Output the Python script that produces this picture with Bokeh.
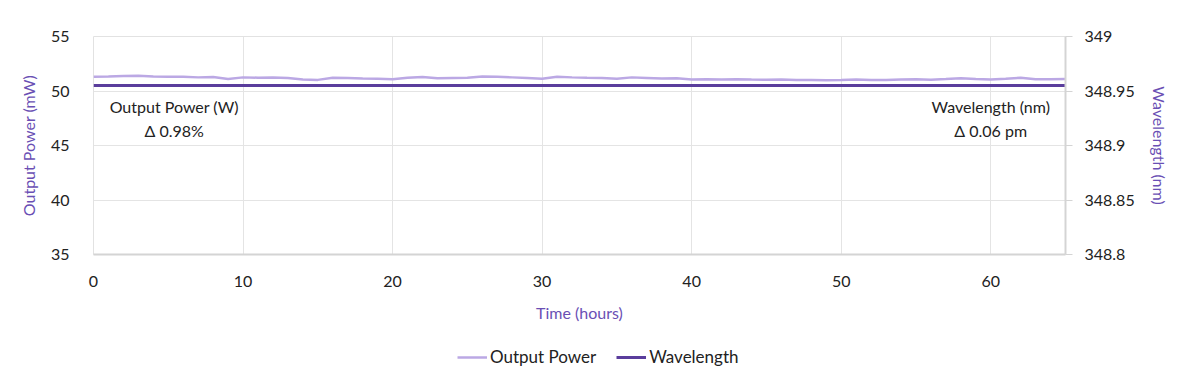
from bokeh.plotting import figure
from bokeh.layouts import column
from bokeh.models import (Range1d, LinearAxis, FixedTicker, Label, Legend, LegendItem,
                          CustomJSTickFormatter)
from bokeh.embed import file_html
from bokeh.resources import INLINE

# ---- data ----
hours = list(range(0, 66))
output_power = [51.30, 51.32, 51.38, 51.40, 51.33, 51.30, 51.31, 51.25, 51.28, 51.10,
                51.25, 51.22, 51.24, 51.20, 51.06, 51.02, 51.22, 51.20, 51.15, 51.12,
                51.08, 51.22, 51.28, 51.18, 51.20, 51.22, 51.32, 51.30, 51.25, 51.20,
                51.12, 51.30, 51.25, 51.22, 51.20, 51.12, 51.25, 51.20, 51.15, 51.18,
                51.06, 51.08, 51.05, 51.08, 51.05, 51.04, 51.06, 51.00, 51.02, 50.98,
                51.00, 51.05, 51.02, 51.00, 51.05, 51.08, 51.04, 51.10, 51.18, 51.10,
                51.05, 51.12, 51.22, 51.08, 51.08, 51.10]
wl_hours = [0, 5, 10, 15, 20, 25, 30, 35, 40, 45, 50, 55, 60, 65]
wavelength = [348.95500, 348.95502, 348.95499, 348.95501, 348.95503, 348.95500, 348.95498,
              348.95501, 348.95502, 348.95500, 348.95499, 348.95501, 348.95500, 348.95502]
x_ticks = [0, 10, 20, 30, 40, 50, 60]
left_ticks = [35, 40, 45, 50, 55]
right_ticks = [348.8, 348.85, 348.9, 348.95, 349.0]
series_names = ["Output Power", "Wavelength"]

FONT = "Lato"
LIGHT = "#bba8e4"
DARK = "#5a3d9c"
AXCOL = "#6a4fb4"

p = figure(width=1190, height=326, output_backend="svg", toolbar_location=None,
           x_range=Range1d(0, 65), y_range=Range1d(35, 55),
           min_border_left=93, min_border_right=125, min_border_top=36, min_border_bottom=72)
p.outline_line_color = "#e2e2e2"
p.background_fill_color = "white"
p.border_fill_color = "white"

p.extra_y_ranges = {"wl": Range1d(348.8, 349.0)}

# grid
p.xgrid.grid_line_color = "#e4e4e4"
p.ygrid.grid_line_color = "#e4e4e4"
p.xgrid.ticker = FixedTicker(ticks=x_ticks)
p.ygrid.ticker = FixedTicker(ticks=left_ticks)

# x axis
xa = p.xaxis[0]
xa.ticker = FixedTicker(ticks=x_ticks)
xa.axis_label = "Time (hours)"
xa.axis_line_color = "#d4d4d4"
xa.axis_line_width = 2
xa.major_tick_line_color = None
xa.minor_tick_line_color = None
xa.major_label_standoff = 15
xa.axis_label_standoff = 13

# left axis
ya = p.yaxis[0]
ya.ticker = FixedTicker(ticks=left_ticks)
ya.axis_label = "Output Power (mW)"
ya.axis_line_color = None
ya.major_tick_line_color = None
ya.minor_tick_line_color = None
ya.major_label_standoff = 18
ya.axis_label_standoff = 10

# right axis
ra = LinearAxis(y_range_name="wl", ticker=FixedTicker(ticks=right_ticks),
                formatter=CustomJSTickFormatter(code="return parseFloat(tick.toFixed(2)).toString();"))
ra.axis_label = "Wavelength (nm)"
ra.axis_line_color = "#d4d4d4"
ra.axis_line_width = 2
ra.major_tick_line_color = "#d4d4d4"
ra.major_tick_in = 0
ra.major_tick_out = 7
ra.minor_tick_line_color = None
ra.major_label_standoff = 12
ra.axis_label_standoff = 12
p.add_layout(ra, "right")

for ax in [xa, ya, ra]:
    ax.major_label_text_font = FONT
    ax.major_label_text_font_size = "16px"
    ax.major_label_text_color = "#222222"
    ax.axis_label_text_font = FONT
    ax.axis_label_text_font_size = "16px"
    ax.axis_label_text_font_style = "normal"
    ax.axis_label_text_color = AXCOL

p.line(hours, output_power, line_color=LIGHT, line_width=2.5)
p.line(wl_hours, wavelength, line_color=DARK, line_width=3, y_range_name="wl")

# annotations
for txt, x, y in [("Output Power (W)", 5.4, 48.6), ("\u0394 0.98%", 5.4, 46.4),
                  ("Wavelength (nm)", 60.0, 48.6), ("\u0394 0.06 pm", 60.0, 46.4)]:
    p.add_layout(Label(x=x, y=y, text=txt, text_align="center", text_baseline="middle",
                       text_font=FONT, text_font_size="16px", text_color="#222222"))

# legend strip (separate figure below the chart; its lines lie outside its view)
lg = figure(width=1190, height=60, output_backend="svg", toolbar_location=None,
            x_axis_type=None, y_axis_type=None, x_range=Range1d(0, 1), y_range=Range1d(0, 1),
            min_border=0)
lg.outline_line_color = None
lg.xgrid.visible = False
lg.ygrid.visible = False
lr_pow = lg.line(hours, output_power, line_color=LIGHT, line_width=2.5)
lr_wl = lg.line(wl_hours, wavelength, line_color=DARK, line_width=3)
legend = Legend(items=[LegendItem(label=series_names[0], renderers=[lr_pow]),
                       LegendItem(label=series_names[1], renderers=[lr_wl])],
                location=(364, 19), orientation="horizontal")
legend.glyph_width = 30
legend.glyph_height = 20
legend.label_standoff = 3
legend.spacing = 20
legend.padding = 0
legend.margin = 0
legend.border_line_color = None
legend.background_fill_alpha = 0
legend.label_text_font = FONT
legend.label_text_font_size = "17px"
legend.label_text_color = "#222222"
lg.add_layout(legend, "center")

open("out.html", "w").write(file_html(column(p, lg), INLINE))
